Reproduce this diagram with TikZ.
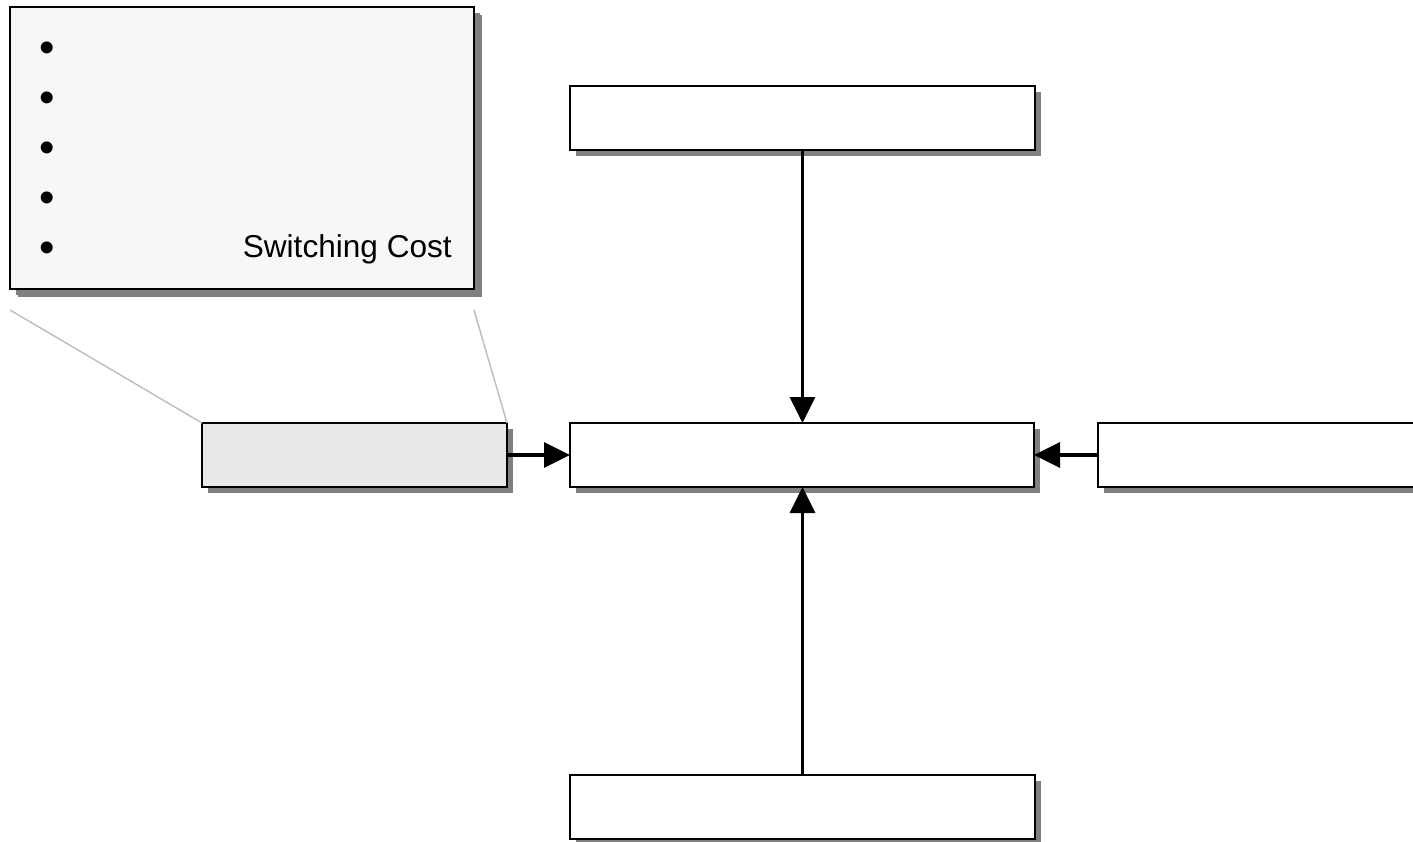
\documentclass[tikz,border=0pt]{standalone}
\usepackage{fontspec}
\setmainfont{Liberation Sans}
\usetikzlibrary{arrows.meta,shadows}
\definecolor{shadowgray}{HTML}{808080}
\definecolor{calloutfill}{HTML}{F7F7F7}
\definecolor{grayfill}{HTML}{E8E8E8}
\definecolor{linegray}{HTML}{C0C0C0}
\tikzset{
  boxnode/.style={draw=black, line width=2pt, fill=white, rectangle, inner sep=0pt, outer sep=0pt,
    minimum width=465pt, minimum height=64pt,
    drop shadow={shadow xshift=6pt, shadow yshift=-6pt, fill=shadowgray, opacity=1}},
  arrowline/.style={line width=3.5pt, -{Triangle[length=26pt,width=25pt]}},
  callline/.style={draw=linegray, line width=1.5pt},
  textnode/.style={anchor=base, inner sep=0pt, font=\fontsize{31.6}{36}\selectfont},
  bulletnode/.style={anchor=base, inner sep=0pt, font=\fontsize{44}{48}\selectfont},
}
\begin{document}
\begin{tikzpicture}[x=1pt,y=-1pt]
\useasboundingbox[fill=white] (0,0) rectangle (1413,842);
% callout lines
\coordinate (cl1) at (10,310);
\coordinate (cl2) at (474,310);
\node[boxnode, fill=grayfill, minimum width=305pt] (src) at (354.5,455) {};
\draw[callline] (cl1) -- (src.north west);
\draw[callline] (cl2) -- (src.north east);
% callout box
\node[boxnode, fill=calloutfill, minimum width=464pt, minimum height=282pt,
  drop shadow={shadow xshift=8pt, shadow yshift=-8pt, fill=shadowgray, opacity=1}] (callout) at (242,148) {};
\foreach \yy/\nm in {46/b1,96/b2,146/b3,196/b4,246/b5}
  \node[bulletnode] (\nm) at (47,\yy+16.5) {•};
\node[textnode, anchor=base east] (sc) at (452,258) {Switching Cost};
% main boxes
\node[boxnode, minimum width=464pt] (center) at (802,455) {};
\node[boxnode] (top) at (802.5,118.5) {};
\node[boxnode] (bottom) at (802.5,807) {};
\node[boxnode, minimum width=464pt] (right) at (1330,455) {};
% arrows
\draw[arrowline] (top.south) -- (top.south |- center.north);
\draw[arrowline] (bottom.north) -- (bottom.north |- center.south);
\draw[arrowline] (src.east) -- (center.west);
\draw[arrowline] (right.west) -- (center.east);
\end{tikzpicture}
\end{document}
